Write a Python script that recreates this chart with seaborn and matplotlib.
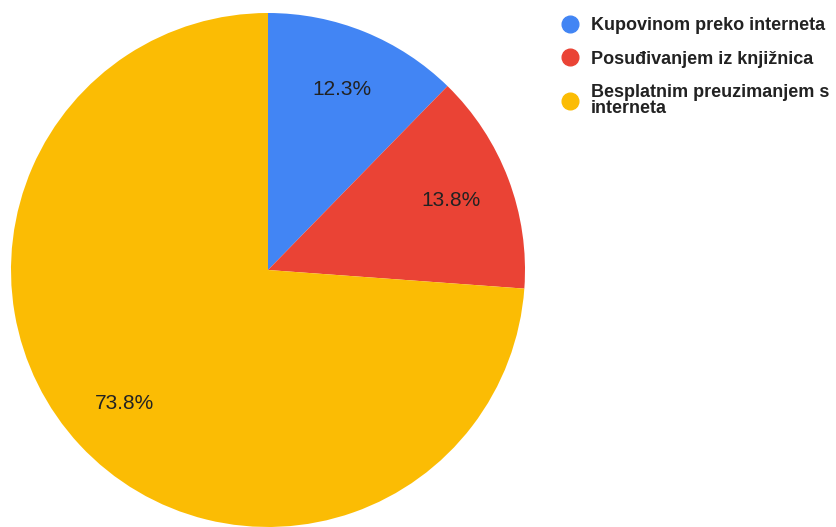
import matplotlib
matplotlib.use("Agg")
import matplotlib.pyplot as plt
import seaborn as sns
from matplotlib.lines import Line2D

categories = ["Kupovinom preko interneta", "Posuđivanjem iz knjižnica",
              "Besplatnim preuzimanjem s interneta"]
legend_labels = ["Kupovinom preko interneta", "Posuđivanjem iz knjižnica",
                 "Besplatnim preuzimanjem s\ninterneta"]
values = [8, 9, 48]
colors = ["#4285F4", "#EA4335", "#FBBC04"]

sns.set_theme(style="white")
plt.rcParams["font.family"] = ["Liberation Sans", "DejaVu Sans"]

fig = plt.figure(figsize=(8.36, 5.27), dpi=100)
ax = fig.add_axes([11 / 836, 0.0 / 527, 514 / 836, 514 / 527])
wedges, texts, autotexts = ax.pie(
    values, colors=colors, startangle=90, counterclock=False,
    autopct=lambda p: f"{p:.1f}%", pctdistance=0.76,
    wedgeprops=dict(linewidth=0, edgecolor="white"),
    textprops=dict(fontsize=15, color="#222222"))
ax.set_xlim(-1, 1)
ax.set_ylim(-1, 1)
ax.set_aspect("equal")
ax.axis("off")

handles = [Line2D([0], [0], marker="o", linestyle="", markersize=12,
                  markerfacecolor=c, markeredgecolor=c) for c in colors]
leg = fig.legend(handles, legend_labels, loc="upper left",
                 bbox_to_anchor=(543 / 836, 1 - 1 / 527), frameon=False,
                 handletextpad=0.55, labelspacing=0.9, handlelength=1.2,
                 prop=dict(size=13, weight="bold"))
for t in leg.get_texts():
    t.set_color("#222222")
    t.set_linespacing(0.95)

fig.savefig("out.png", dpi=100)
